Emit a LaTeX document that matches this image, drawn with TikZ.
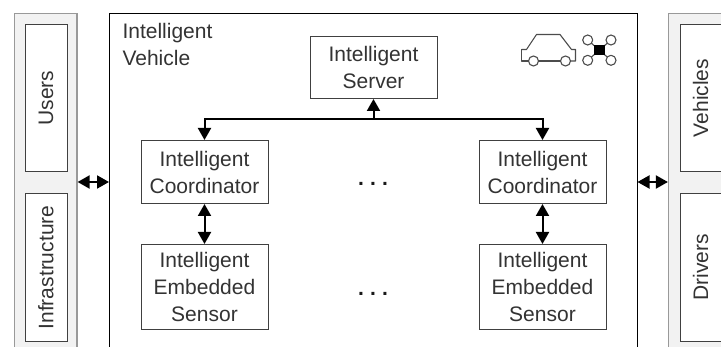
\documentclass[tikz,border=0pt]{standalone}
\usepackage{fontspec}
\setmainfont{Liberation Sans}
\usetikzlibrary{arrows.meta}
\tikzset{
  unitbox/.style = {draw = black!75, fill = white, line width = 1pt, align = center, inner sep = 0pt,
                    text = black!80, font = \fontsize{21}{27}\selectfont},
  sidepanel/.style = {draw = black!40, fill = black!5, line width = 1.2pt, inner sep = 0pt},
  link/.style = {line width = 2pt, {Triangle[length = 12pt, width = 13pt]}-{Triangle[length = 12pt, width = 13pt]}},
  icon/.style = {draw = black!70, line width = 1.1pt, line join = round},
  dotrow/.style = {text = black!90, anchor = base, font = \fontsize{21}{27}\selectfont\bfseries}
}
\newcommand{\unitnode}[6]{\node[unitbox, minimum width = #3pt, minimum height = #4pt, #5] (#1) at (#2) {#6};}
\begin{document}
\begin{tikzpicture}[x = 1pt, y = -1pt]
        \clip (0,0) rectangle (721,347);
        \fill[white] (0,0) rectangle (721,347);
        % environment panels, open at the picture edges
        \node[sidepanel, minimum width = 62.5pt, minimum height = 400pt] (leftpanel) at (45.75,213.5) {};
        \node[sidepanel, minimum width = 100pt, minimum height = 400pt] (rightpanel) at (718.5,213.5) {};
        \node[draw = black, fill = white, line width = 1pt, minimum width = 527.5pt, minimum height = 400pt, inner sep = 0pt] (vehicle) at (373.25,213.5) {};
        \node[unitbox, draw = none, fill = none, align = left, anchor = north west] (vehiclelabel) at (122,22.5) {Intelligent\\Vehicle};
        % side boxes
        \unitnode{users}{46,98}{42}{147}{}{\rotatebox{90}{Users}}
        \unitnode{infra}{46,267.5}{42}{148}{}{\rotatebox{90}{Infrastructure}}
        \unitnode{vehicles}{720,98}{80}{147}{}{}
        \unitnode{drivers}{720,267.5}{80}{148}{}{}
        \node[text = black!80, font = \fontsize{21}{27}\selectfont, rotate = 90] (vehicleslabel) at (700.5,98) {Vehicles};
        \node[text = black!80, font = \fontsize{21}{27}\selectfont, rotate = 90] (driverslabel) at (700.5,267.5) {Drivers};
        % units
        \unitnode{server}{373.5,67.5}{127}{62}{}{Intelligent\\Server}
        \unitnode{coordl}{204.5,172}{127}{63}{}{Intelligent\\Coordinator}
        \unitnode{coordr}{542.5,172}{127}{63}{}{Intelligent\\Coordinator}
        \unitnode{sensorl}{204.5,287}{127}{85}{}{Intelligent\\Embedded\\Sensor}
        \unitnode{sensorr}{542.5,287}{127}{85}{}{Intelligent\\Embedded\\Sensor}
        \node[dotrow] (dotsup) at (373,186) {.\hspace{6.2pt}.\hspace{6.2pt}.};
        \node[dotrow] (dotsdown) at (373,295.5) {.\hspace{6.2pt}.\hspace{6.2pt}.};
        % links
        \coordinate (busl) at (coordl.north |- 0,119);
        \coordinate (busr) at (coordr.north |- 0,119);
        \coordinate (busm) at (server.south |- 0,119);
        \draw[link] (coordl.north) -- (busl) -- (busr) -- (coordr.north);
        \draw[line width = 2pt, -{Triangle[length = 12pt, width = 13pt]}] (busm) -- (server.south);
        \draw[link] (coordl.south) -- (sensorl.north);
        \draw[link] (coordr.south) -- (sensorr.north);
        \coordinate (leftedge) at (leftpanel.east |- 0,182);
        \coordinate (mainleft) at (vehicle.west |- 0,182);
        \coordinate (mainright) at (vehicle.east |- 0,182);
        \coordinate (rightedge) at (rightpanel.west |- 0,182);
        \draw[link] (leftedge) -- (mainleft);
        \draw[link] (mainright) -- (rightedge);
        % car
        \draw[icon] (521.5,49.5) -- (526.5,49.5) -- (536.5,34.5) -- (560,34.5) -- (571.5,49.5) -- (575.5,49.5) -- (575.5,61) -- (570.5,61);
        \draw[icon] (521.5,49.5) -- (521.5,61) -- (528.5,61);
        \draw[icon] (538.5,61) -- (560.5,61);
        \draw[icon] (533.5,61) circle (5pt);
        \draw[icon] (565.5,61) circle (5pt);
        % drone
        \draw[icon] (587.7,40) -- (611,60.3);
        \draw[icon] (611,40) -- (587.7,60.3);
        \fill[black] (594,45) rectangle (605,55);
        \foreach \px/\py in {587.7/40, 611/40, 587.7/60.3, 611/60.3}
          \draw[icon, fill = white] (\px,\py) circle (5pt);
      \end{tikzpicture}
\end{document}
